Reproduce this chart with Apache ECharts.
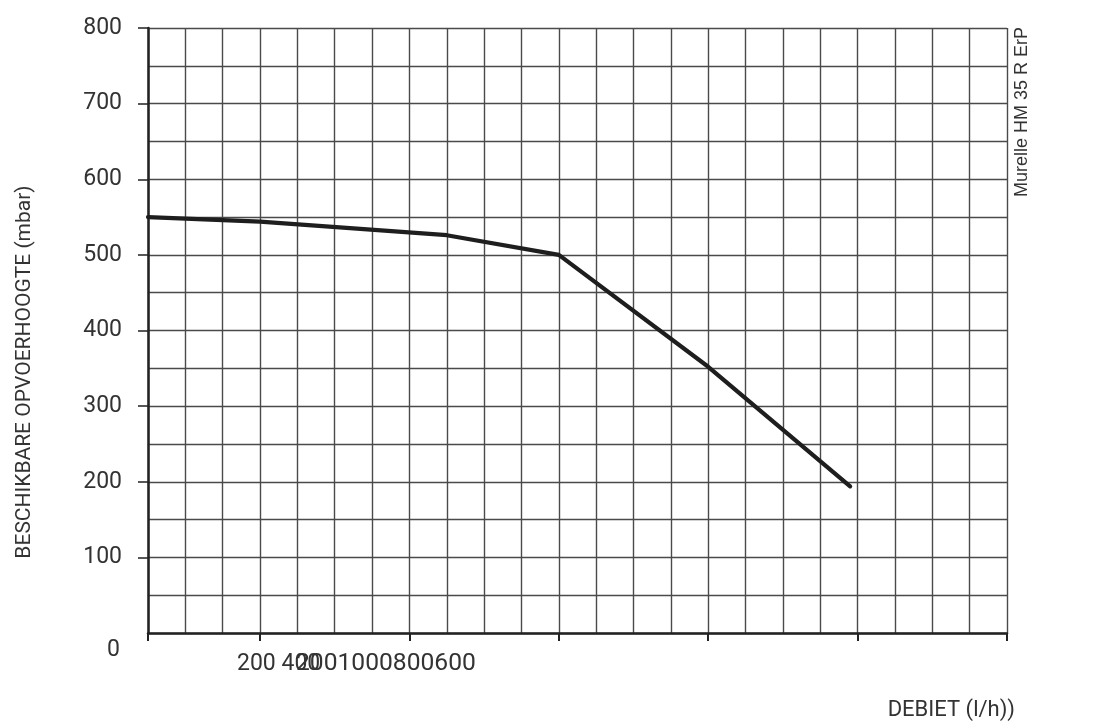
<!DOCTYPE html>
<html>
<head>
<meta charset="utf-8">
<script src="https://cdn.jsdelivr.net/npm/echarts@6/dist/echarts.min.js"></script>
<style>
html,body{margin:0;padding:0;background:#fff;}
#c{width:1120px;height:728px;}
</style>
</head>
<body>
<div id="c"></div>
<script>
// Debiet (l/h) along the grid and beschikbare opvoerhoogte (mbar)
const flowValues = [50, 200, 450, 600, 800, 990];
const headValues = [550, 544, 526, 500, 352, 194];
const yLabelValues = [0, 100, 200, 300, 400, 500, 600, 700, 800];
const xTickValues = [50, 200, 400, 600, 800, 1000, 1200];
const xLabelFragments = ['200 400', '2001000800600'];
const yAxisTitle = 'BESCHIKBARE OPVOERHOOGTE (mbar)';
const xAxisTitle = 'DEBIET (l/h))';
const modelTitle = 'Murelle HM 35 R ErP';

const chart = echarts.init(document.getElementById('c'), null, {renderer: 'canvas'});
const txt = '#333';
const gridCol = '#4a4a4a';
const axisCol = '#222';

chart.setOption({
  backgroundColor: '#fff',
  animation: false,
  grid: {left: 148, right: 113, top: 28, bottom: 95, containLabel: false},
  xAxis: [{
    // grid lines every 50
    type: 'value', min: 50, max: 1200, interval: 50, position: 'bottom',
    axisLine: {show: true, onZero: false, lineStyle: {color: axisCol, width: 2.5}},
    axisTick: {show: false},
    axisLabel: {show: false},
    splitLine: {show: true, lineStyle: {color: gridCol, width: 1.4}}
  }, {
    // ticks
    type: 'value', min: 50, max: 1200, interval: 50, position: 'bottom',
    axisLine: {show: false, onZero: false},
    axisTick: {show: true, customValues: xTickValues, length: 8, lineStyle: {color: axisCol, width: 2}},
    axisLabel: {show: false},
    splitLine: {show: false}
  }],
  yAxis: [{
    type: 'value', min: 0, max: 800, interval: 50, position: 'left',
    axisLine: {show: true, lineStyle: {color: axisCol, width: 2.5}},
    axisTick: {show: false},
    axisLabel: {show: false},
    splitLine: {show: true, lineStyle: {color: gridCol, width: 1.4}}
  }, {
    type: 'value', min: 0, max: 800, interval: 50, position: 'left',
    axisLine: {show: false},
    axisTick: {show: true, customValues: yLabelValues.slice(1), length: 10, lineStyle: {color: axisCol, width: 1.5}},
    axisLabel: {
      customValues: yLabelValues, margin: 26, color: txt, fontSize: 23, fontFamily: 'Roboto',
      formatter: v => v === 0 ? '{z|0}' : String(v),
      rich: {z: {color: txt, fontSize: 23, fontFamily: 'Roboto', padding: [34, 2, 0, 0]}}
    },
    splitLine: {show: false}
  }],
  series: [{
    type: 'line',
    xAxisIndex: 0, yAxisIndex: 0,
    data: flowValues.map((x, i) => [x, headValues[i]]),
    showSymbol: false, symbol: 'none',
    lineStyle: {color: '#1e1e1e', width: 4.2, cap: 'round', join: 'round'},
    z: 5
  }],
  graphic: [
    {type: 'text', left: 237, top: 653, style: {text: xLabelFragments[0], fill: txt, font: '23px Roboto'}},
    {type: 'text', left: 296, top: 653, scaleX: 1.07, style: {text: xLabelFragments[1], fill: txt, font: '23px Roboto'}},
    {type: 'text', x: 1015, y: 710, style: {text: xAxisTitle, fill: txt, font: '22px Roboto', align: 'right', verticalAlign: 'middle'}},
    {type: 'text', x: 25, y: 372, rotation: Math.PI / 2, style: {text: yAxisTitle, fill: txt, font: '21px Roboto', align: 'center', verticalAlign: 'middle'}},
    {type: 'text', x: 1022, y: 112, rotation: Math.PI / 2, style: {text: modelTitle, fill: txt, font: '18px "Liberation Sans"', align: 'center', verticalAlign: 'middle'}}
  ]
});
</script>
</body>
</html>
